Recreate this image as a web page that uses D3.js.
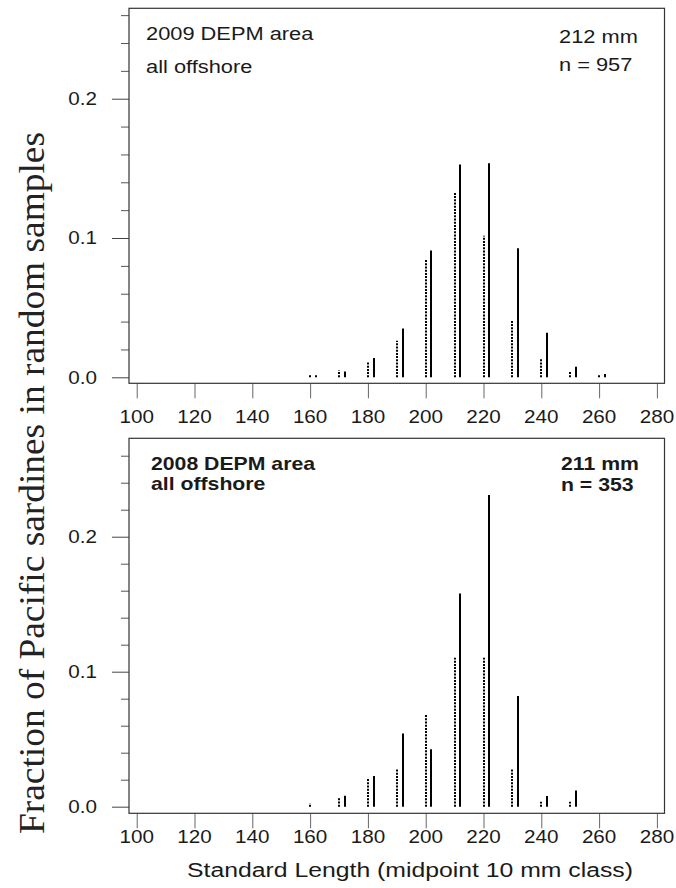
<!DOCTYPE html>
<html>
<head>
<meta charset="utf-8">
<script src="https://cdn.jsdelivr.net/npm/d3@7"></script>
<style>
  html, body { margin: 0; padding: 0; background: #fff; }
  svg { display: block; }
</style>
</head>
<body>
<div id="chart"></div>
<script>
// length classes (mm, midpoint of 10 mm class)
const lengthClasses = [160, 170, 180, 190, 200, 210, 220, 230, 240, 250, 260];

// 2009 DEPM area, fraction per class (dotted = left line, solid = right line)
const dotted2009 = [0.0015, 0.0048, 0.0108, 0.0263, 0.0842, 0.1325, 0.1017, 0.0404, 0.0131, 0.0040, 0.0017];
const solid2009  = [0.0015, 0.0041, 0.0139, 0.0350, 0.0910, 0.1527, 0.1536, 0.0926, 0.0320, 0.0076, 0.0024];

// 2008 DEPM area
const dotted2008 = [0.0025, 0.0062, 0.0205, 0.0284, 0.0679, 0.1104, 0.1104, 0.0284, 0.0037, 0.0037, 0];
const solid2008  = [0,      0.0081, 0.0227, 0.0543, 0.0425, 0.1580, 0.2309, 0.0820, 0.0079, 0.0119, 0];

const xTicks = [100, 120, 140, 160, 180, 200, 220, 240, 260, 280];
const yMajorTicks = [0, 0.1, 0.2];
const yMinorTicks = [0.02, 0.04, 0.06, 0.08, 0.12, 0.14, 0.16, 0.18, 0.22, 0.24, 0.26];

const panelTitles = [
  { left: ['2009 DEPM area', 'all offshore'], right: ['212 mm', 'n = 957'], bold: false },
  { left: ['2008 DEPM area', 'all offshore'], right: ['211 mm', 'n = 353'], bold: true }
];

const W = 676, H = 888;
const SX = 1.18;          // the original figure is a bit stretched sideways
const solidOffset = 2;    // solid line drawn 2 mm right of the dotted one

const svg = d3.select('#chart').append('svg')
  .attr('width', W)
  .attr('height', H);

// stretched text helper
function label(g, x, y, str, opts = {}) {
  const t = g.append('text')
    .attr('transform', `translate(${x},${y}) scale(${SX},1)`)
    .attr('text-anchor', opts.anchor || 'start')
    .style('font-family', '"Liberation Sans", Arial, sans-serif')
    .style('font-size', (opts.size || 17.5) + 'px')
    .style('font-weight', opts.bold ? 'bold' : 'normal')
    .style('fill', opts.fill || '#1a1a1a')
    .text(str);
  if (opts.dy) t.attr('dy', opts.dy);
  return t;
}

const x = d3.scaleLinear().domain([97.33, 282.63]).range([129, 664.5]);

const panels = [
  { top: 8.3, bottom: 383.3, yDomain: [-0.0043, 0.2649], dotted: dotted2009, solid: solid2009, tickLabelY: 423, titles: panelTitles[0],
    leftBase: [40, 73], rightBase: [42.5, 71], leftX: 146, rightX: 559, size: 18.5 },
  { top: 438.3, bottom: 813.3, yDomain: [-0.0049, 0.2729], dotted: dotted2008, solid: solid2008, tickLabelY: 843, titles: panelTitles[1],
    leftBase: [469.5, 490], rightBase: [469.5, 491], leftX: 151, rightX: 561, size: 18 }
];

panels.forEach(p => {
  const g = svg.append('g');
  const y = d3.scaleLinear().domain(p.yDomain).range([p.bottom, p.top]);

  // y axis: major and minor ticks drawn with d3.axisLeft
  const majorAxis = d3.axisLeft(y).tickValues(yMajorTicks).tickSize(17).tickFormat(d3.format('.1f'));
  const ga = g.append('g').attr('transform', `translate(${x.range()[0]},0)`).call(majorAxis);
  ga.select('.domain').remove();
  ga.selectAll('line').attr('stroke', '#444');
  ga.selectAll('text').remove();

  const minorAxis = d3.axisLeft(y).tickValues(yMinorTicks).tickSize(8).tickFormat('');
  const gm = g.append('g').attr('transform', `translate(${x.range()[0]},0)`).call(minorAxis);
  gm.select('.domain').remove();
  gm.selectAll('line').attr('stroke', '#555');

  yMajorTicks.forEach(v => {
    label(g, 97, y(v), d3.format('.1f')(v), { anchor: 'end', dy: '0.36em' });
  });

  // x axis ticks
  const xAxis = d3.axisBottom(x).tickValues(xTicks).tickSize(15).tickFormat('');
  const gx = g.append('g').attr('transform', `translate(0,${p.bottom})`).call(xAxis);
  gx.select('.domain').remove();
  gx.selectAll('line').attr('stroke', '#666');
  xTicks.forEach(v => label(g, x(v), p.tickLabelY, String(v), { anchor: 'middle' }));

  // frame
  g.append('rect')
    .attr('x', x.range()[0]).attr('y', p.top)
    .attr('width', x.range()[1] - x.range()[0]).attr('height', p.bottom - p.top)
    .attr('fill', 'none').attr('stroke', '#333').attr('stroke-width', 1.2);

  // dotted lines
  g.selectAll('.dotted').data(lengthClasses.map((c, i) => ({ c, v: p.dotted[i] })).filter(d => d.v > 0))
    .enter().append('line')
    .attr('x1', d => Math.round(x(d.c))).attr('x2', d => Math.round(x(d.c)))
    .attr('y1', y(0)).attr('y2', d => y(d.v))
    .attr('stroke', '#000').attr('stroke-width', 2)
    .attr('stroke-dasharray', '2,1.2');

  // solid lines
  g.selectAll('.solid').data(lengthClasses.map((c, i) => ({ c, v: p.solid[i] })).filter(d => d.v > 0))
    .enter().append('line')
    .attr('x1', d => Math.round(x(d.c + solidOffset))).attr('x2', d => Math.round(x(d.c + solidOffset)))
    .attr('y1', y(0)).attr('y2', d => y(d.v))
    .attr('stroke', '#000').attr('stroke-width', 2);

  // annotations
  p.titles.left.forEach((s, i) => label(g, p.leftX, p.leftBase[i], s, { size: p.size, bold: p.titles.bold }));
  p.titles.right.forEach((s, i) => label(g, p.rightX, p.rightBase[i], s, { size: p.size, bold: p.titles.bold }));
});

// x axis title
label(svg, 410, 877, 'Standard Length (midpoint 10 mm class)', { anchor: 'middle', size: 21 });

// y axis title (serif, rotated)
svg.append('text')
  .attr('transform', 'translate(44,483) rotate(-90)')
  .attr('text-anchor', 'middle')
  .attr('textLength', 702)
  .attr('lengthAdjust', 'spacingAndGlyphs')
  .style('font-family', '"Liberation Serif", "Times New Roman", serif')
  .style('font-size', '35px')
  .style('fill', '#222')
  .text('Fraction of Pacific sardines in random samples');
</script>
</body>
</html>
